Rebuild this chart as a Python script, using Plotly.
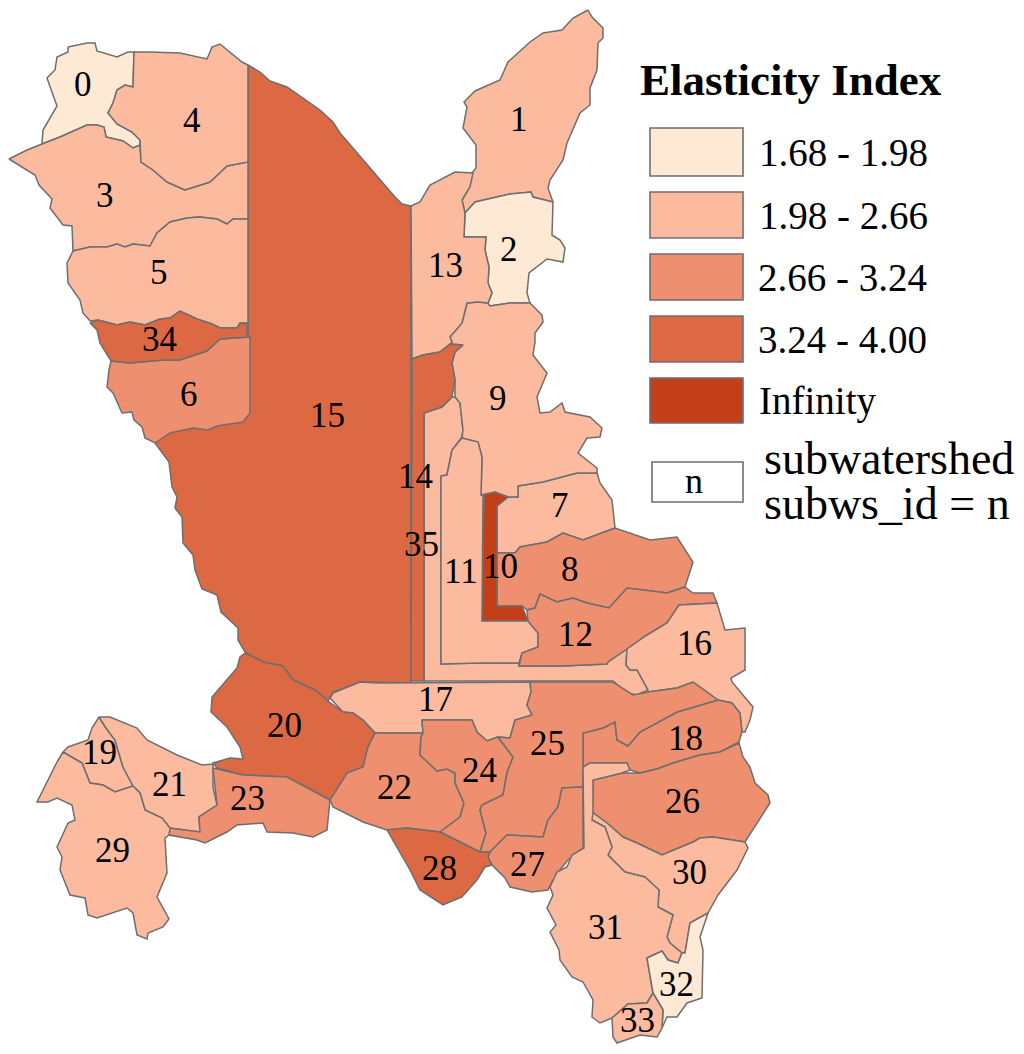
import plotly.graph_objects as go

# Class colours, lowest elasticity first
class_colors = ["#FEE9D4", "#FCBA9F", "#EE8F6F", "#DC6844", "#C23F19"]
class_labels = ["1.68 - 1.98", "1.98 - 2.66", "2.66 - 3.24", "3.24 - 4.00", "Infinity"]

# Boundaries, in image pixels
subws_0 = [(68,47),(87,43),(95,43),(97,51),(117,57),(128,52),(134,52),(133,87),(125,85),(117,90),(113,103),(108,113),(117,124),(132,132),(140,140),(140,145),(133,148),(123,141),(106,137),(104,127),(97,125),(87,125),(60,137),(42,144),(43,130),(57,106),(53,95),(47,78),(55,70),(57,57),(68,52)]
subws_1 = [(588,10),(592,17),(603,28),(603,38),(598,43),(597,70),(590,88),(590,105),(580,113),(567,143),(563,160),(550,180),(548,188),(553,202),(533,197),(531,192),(510,194),(475,202),(465,213),(462,200),(468,190),(472,173),(476,168),(476,145),(463,128),(467,107),(464,102),(475,91),(500,80),(508,62),(530,42),(543,33),(562,30),(573,18)]
subws_2 = [(465,213),(475,202),(510,194),(531,192),(533,197),(553,202),(552,235),(560,240),(565,248),(563,262),(547,259),(529,273),(527,293),(530,303),(510,303),(490,306),(488,303),(492,293),(488,283),(489,267),(485,250),(486,237),(464,237)]
subws_3 = [(42,144),(60,137),(87,125),(97,125),(104,127),(106,137),(123,141),(133,148),(140,145),(141,162),(153,170),(167,182),(185,190),(210,182),(227,166),(248,162),(248,219),(233,219),(227,224),(217,219),(200,217),(187,218),(170,222),(157,233),(150,246),(133,244),(125,247),(117,244),(107,247),(90,247),(73,251),(72,226),(63,225),(50,208),(52,199),(39,185),(35,175),(20,166),(9,159),(27,150)]
subws_4 = [(134,52),(150,52),(180,53),(207,59),(212,47),(220,44),(242,62),(248,65),(248,162),(227,166),(210,182),(185,190),(167,182),(153,170),(141,162),(140,145),(140,140),(132,132),(117,124),(108,113),(113,103),(117,90),(125,85),(133,87)]
subws_5 = [(73,251),(90,247),(107,247),(117,244),(125,247),(133,244),(150,246),(157,233),(170,222),(187,218),(200,217),(217,219),(227,224),(233,219),(248,219),(248,323),(240,323),(237,328),(220,328),(212,324),(197,319),(180,311),(170,318),(160,319),(145,325),(130,322),(117,325),(98,320),(90,321),(83,313),(80,300),(68,283),(67,263)]
subws_6 = [(111,361),(130,363),(163,360),(180,360),(207,351),(220,339),(250,337),(250,413),(243,422),(217,426),(208,430),(193,428),(170,433),(155,443),(145,438),(142,427),(134,420),(132,412),(122,413),(113,393),(107,387),(109,370)]
subws_7 = [(518,486),(543,482),(577,473),(597,473),(600,483),(612,500),(615,528),(583,540),(563,533),(547,542),(520,547),(515,553),(497,553),(497,506),(508,497),(518,497)]
subws_8 = [(515,553),(520,547),(547,542),(563,533),(583,540),(615,528),(650,540),(677,537),(693,562),(686,583),(685,587),(667,593),(627,588),(609,608),(587,603),(573,598),(557,602),(540,594),(535,608),(527,610),(522,606),(497,606),(497,553)]
subws_9 = [(467,303),(478,302),(488,303),(490,306),(510,303),(530,303),(542,315),(543,322),(535,333),(535,342),(533,355),(547,373),(537,397),(540,413),(550,412),(562,403),(565,412),(590,417),(602,428),(600,437),(587,438),(578,453),(597,468),(597,473),(577,473),(543,482),(518,486),(518,497),(508,497),(495,492),(481,495),(482,457),(478,442),(462,438),(463,430),(460,403),(455,397),(455,380),(452,363),(455,352),(463,345),(450,344),(452,342),(450,337),(462,323)]
subws_10 = [(484,495),(495,492),(508,497),(497,506),(497,606),(522,606),(528,621),(482,621)]
subws_11 = [(441,476),(447,475),(452,450),(462,438),(478,442),(482,457),(481,495),(483,496),(482,621),(528,621),(538,633),(538,647),(522,653),(519,663),(480,663),(441,664)]
subws_12 = [(527,610),(535,608),(540,594),(557,602),(573,598),(587,603),(609,608),(627,588),(667,593),(685,587),(693,593),(713,593),(717,603),(679,605),(667,623),(647,635),(627,649),(608,662),(607,664),(562,666),(519,666),(522,653),(538,647),(538,633),(528,621)]
subws_13 = [(411,206),(420,202),(430,185),(455,172),(473,173),(470,187),(462,200),(465,213),(464,237),(486,237),(485,250),(489,267),(488,283),(492,293),(488,303),(478,302),(467,303),(462,323),(450,337),(452,342),(450,344),(440,352),(423,355),(412,359)]
subws_14 = [(412,359),(423,355),(440,352),(450,344),(463,345),(455,352),(452,363),(455,380),(452,397),(442,407),(424,413),(424,681),(411,681)]
subws_15 = [(248,65),(260,72),(270,81),(287,87),(320,110),(333,122),(340,133),(363,160),(395,197),(402,204),(411,206),(411,683),(360,682),(333,692),(328,701),(315,690),(293,680),(283,666),(263,662),(245,652),(238,640),(238,628),(221,612),(217,595),(202,589),(195,570),(193,555),(183,543),(182,517),(175,508),(177,497),(172,487),(169,462),(155,443),(170,420),(240,400),(240,340),(248,337)]
subws_16 = [(627,649),(647,635),(667,623),(679,605),(717,603),(725,630),(745,628),(745,670),(731,678),(732,682),(753,707),(750,720),(745,732),(742,732),(740,713),(732,703),(718,700),(693,682),(677,688),(648,692),(648,690),(637,670),(630,670),(626,665)]
subws_17 = [(330,698),(333,693),(360,682),(378,683),(530,682),(531,692),(527,705),(532,715),(515,720),(510,738),(498,737),(487,741),(477,732),(472,720),(422,720),(423,733),(375,733),(363,720),(353,713),(343,712)]
subws_18 = [(718,700),(732,703),(740,713),(742,732),(739,742),(720,752),(700,755),(673,763),(657,769),(640,773),(630,770),(627,763),(590,763),(583,767),(583,733),(603,728),(615,722),(617,740),(628,746),(640,732),(677,712)]
subws_19 = [(99,717),(106,728),(115,740),(123,767),(133,786),(115,792),(103,785),(90,783),(82,763),(63,752),(68,747),(88,740),(92,728)]
subws_20 = [(245,653),(263,662),(283,666),(293,680),(315,690),(328,701),(343,712),(353,713),(363,720),(375,733),(368,747),(363,767),(347,773),(333,800),(330,800),(287,777),(243,775),(217,768),(213,763),(230,758),(243,759),(240,747),(227,727),(211,712),(212,697),(227,680),(237,668),(240,657)]
subws_21 = [(99,717),(110,717),(137,728),(147,740),(177,755),(202,765),(213,764),(213,787),(217,805),(199,817),(200,832),(170,828),(162,818),(145,810),(140,793),(133,786),(123,767),(115,740),(106,728)]
subws_22 = [(375,733),(423,733),(421,737),(420,755),(437,771),(447,769),(455,773),(455,783),(464,803),(460,817),(440,832),(407,828),(387,830),(363,822),(333,807),(330,800),(347,773),(363,767),(368,747)]
subws_23 = [(213,768),(243,775),(287,777),(330,800),(327,830),(313,837),(293,833),(267,832),(263,823),(237,825),(227,832),(205,843),(197,840),(169,835),(169,828),(200,832),(199,817),(217,805)]
subws_24 = [(422,720),(472,720),(477,732),(487,741),(498,737),(513,757),(507,773),(503,795),(482,805),(480,810),(486,833),(480,852),(440,832),(460,817),(464,803),(455,783),(455,773),(447,769),(437,771),(420,755),(421,737),(423,733)]
subws_25 = [(530,682),(613,682),(633,695),(648,692),(677,688),(693,682),(718,700),(677,712),(640,732),(628,746),(617,740),(615,722),(603,728),(583,733),(583,787),(562,788),(558,807),(548,820),(543,837),(507,835),(490,852),(480,852),(486,833),(480,810),(482,805),(503,795),(507,773),(513,757),(498,737),(510,738),(515,720),(532,715),(527,705),(531,692)]
subws_26 = [(593,780),(622,773),(640,773),(657,769),(673,763),(700,755),(720,752),(739,743),(743,757),(750,767),(755,783),(768,795),(770,803),(757,823),(745,842),(713,837),(700,838),(693,842),(662,855),(637,843),(623,837),(607,823),(592,812),(593,797)]
subws_27 = [(490,852),(507,835),(543,837),(548,820),(558,807),(562,788),(583,787),(583,848),(568,860),(560,870),(552,882),(548,890),(532,892),(510,887),(505,878),(492,865),(488,857)]
subws_28 = [(387,830),(407,828),(440,832),(480,852),(490,852),(488,857),(492,865),(485,867),(477,880),(462,897),(443,905),(420,890),(410,870),(400,853)]
subws_29 = [(63,752),(82,763),(90,783),(103,785),(115,792),(133,786),(140,793),(145,810),(162,818),(170,828),(169,835),(165,838),(167,873),(157,897),(169,919),(163,927),(148,933),(147,939),(137,935),(133,913),(127,908),(97,918),(88,915),(85,898),(70,895),(60,870),(62,857),(57,847),(68,823),(75,820),(72,805),(57,798),(48,802),(37,802),(57,762)]
subws_30 = [(592,812),(607,823),(623,837),(637,843),(662,855),(693,842),(700,838),(713,837),(745,842),(748,848),(737,870),(718,895),(708,913),(690,923),(685,953),(682,953),(670,943),(667,937),(673,915),(658,907),(659,890),(645,877),(625,872),(608,855),(612,847),(605,827),(592,820)]
subws_31 = [(583,767),(590,763),(627,763),(630,770),(622,773),(593,780),(593,812),(592,820),(605,827),(612,847),(608,855),(625,872),(645,877),(659,890),(658,907),(673,915),(667,937),(670,943),(682,953),(678,963),(668,960),(662,951),(647,958),(653,993),(647,1003),(628,1004),(612,1018),(600,1023),(592,1017),(593,1000),(583,982),(572,977),(560,960),(559,950),(550,932),(556,925),(547,908),(553,895),(550,887),(557,872),(567,867),(572,855),(584,848)]
subws_32 = [(708,913),(700,937),(703,950),(702,998),(687,1003),(677,1017),(667,1017),(662,1028),(663,1010),(653,993),(647,958),(662,951),(668,960),(678,963),(682,953),(685,953),(690,923)]
subws_33 = [(612,1018),(628,1004),(647,1003),(653,993),(663,1010),(662,1028),(657,1037),(640,1035),(617,1043),(613,1037)]
subws_34 = [(90,323),(98,320),(117,325),(130,322),(145,325),(160,319),(170,318),(180,311),(197,319),(212,324),(220,328),(237,328),(240,323),(247,324),(247,337),(220,339),(207,351),(180,360),(163,360),(130,363),(111,361),(100,343),(97,330)]
subws_35 = [(424,413),(442,407),(452,397),(455,397),(460,403),(463,430),(462,437),(452,450),(447,475),(441,476),(441,664),(480,663),(519,663),(519,666),(562,666),(607,664),(608,662),(627,649),(626,665),(630,670),(637,670),(648,690),(637,695),(627,693),(613,681),(424,681)]

# Which class each subwatershed falls in, by id
subws_class = [0, 1, 0, 1, 1, 1, 2, 1, 2, 1, 4, 1, 2, 1, 3, 3, 1, 1, 2, 1, 3, 1, 2, 2, 2, 2, 2, 2, 3, 1, 1, 1, 0, 1, 3, 1]

subws_polys = [
    subws_0, subws_1, subws_2, subws_3, subws_4, subws_5, subws_6, subws_7, subws_8,
    subws_9, subws_10, subws_11, subws_12, subws_13, subws_14, subws_15, subws_16,
    subws_17, subws_18, subws_19, subws_20, subws_21, subws_22, subws_23, subws_24,
    subws_25, subws_26, subws_27, subws_28, subws_29, subws_30, subws_31, subws_32,
    subws_33, subws_34, subws_35,
]

label_x = [83, 519, 509, 105, 192, 159, 189, 560, 570, 498, 500, 461, 575, 445, 415, 327, 694, 435, 685, 99, 284, 169, 394, 247, 479, 547, 682, 527, 439, 112, 689, 605, 676, 637, 159, 421]
label_y = [84, 119, 249, 195, 120, 272, 394, 505, 569, 398, 566, 571, 634, 265, 476, 415, 643, 699, 738, 752, 725, 784, 787, 798, 770, 743, 801, 864, 868, 850, 872, 927, 984, 1020, 339, 544]

LINE = "#6E6E6E"
SERIF = "Liberation Serif, Times New Roman, serif"

fig = go.Figure()

# big ones first so the neighbours sit on top of their edges
draw_order = [15, 35] + [i for i in range(len(subws_polys)) if i not in (15, 35)]
for i in draw_order:
    xs = [p[0] for p in subws_polys[i]]
    ys = [p[1] for p in subws_polys[i]]
    fig.add_trace(
        go.Scatter(
            x=xs + xs[:1],
            y=ys + ys[:1],
            mode="lines",
            fill="toself",
            fillcolor=class_colors[subws_class[i]],
            line=dict(color=LINE, width=1.5),
            name=str(i),
            hoverinfo="name",
            showlegend=False,
        )
    )

for i in range(len(subws_polys)):
    fig.add_annotation(
        x=label_x[i], y=label_y[i], text=str(i), showarrow=False,
        font=dict(family=SERIF, size=35, color="black"),
    )

# Legend
fig.add_annotation(
    x=638, y=80, text="<b>Elasticity Index</b>", showarrow=False, xanchor="left",
    font=dict(family=SERIF, size=45, color="black"),
)
swatch_top = [128, 192, 254, 316, 378]
swatch_bottom = [176, 238, 300, 362, 423]
label_left = [757, 757, 756, 756, 757]
for i in range(5):
    fig.add_shape(
        type="rect", x0=650, x1=743, y0=swatch_top[i], y1=swatch_bottom[i],
        fillcolor=class_colors[i], line=dict(color=LINE, width=1.6),
    )
    fig.add_annotation(
        x=label_left[i], y=(swatch_top[i] + swatch_bottom[i]) / 2, text=class_labels[i],
        showarrow=False, xanchor="left",
        font=dict(family=SERIF, size=39, color="black"),
    )

fig.add_shape(
    type="rect", x0=652, x1=743, y0=462, y1=502, fillcolor="white",
    line=dict(color=LINE, width=1.6),
)
fig.add_annotation(
    x=694, y=481, text="n", showarrow=False, font=dict(family=SERIF, size=36, color="black")
)
fig.add_annotation(
    x=762, y=458, text="subwatershed", showarrow=False, xanchor="left",
    font=dict(family=SERIF, size=46, color="black"),
)
fig.add_annotation(
    x=762, y=503, text="subws_id = n", showarrow=False, xanchor="left",
    font=dict(family=SERIF, size=46, color="black"),
)

fig.update_xaxes(range=[0, 1024], visible=False, fixedrange=True)
fig.update_yaxes(range=[1054, 0], visible=False, fixedrange=True)
fig.update_layout(
    width=1024,
    height=1054,
    margin=dict(l=0, r=0, t=0, b=0),
    paper_bgcolor="white",
    plot_bgcolor="white",
)

fig.write_html(
    "out.html",
    config={"displayModeBar": False},
    post_script="document.body.style.margin='0';document.body.style.overflow='hidden';",
)
